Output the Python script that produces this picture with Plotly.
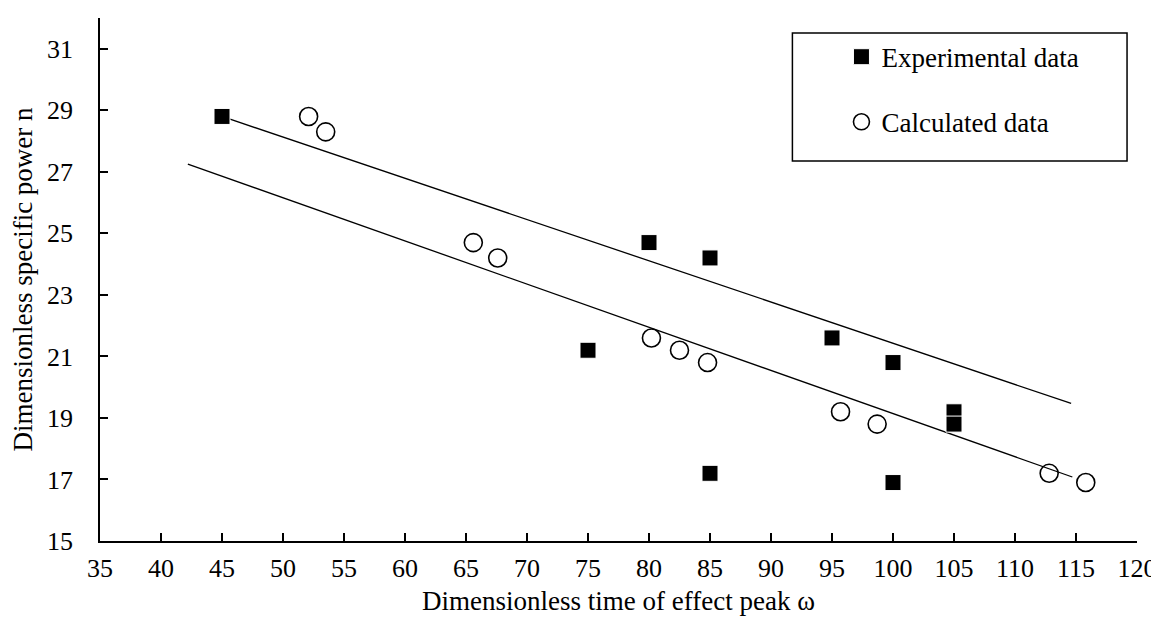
import plotly.graph_objects as go

# Experimental data (squares)
exp_x = [45, 75, 80, 85, 85, 95, 100, 100, 105, 105]
exp_y = [28.8, 21.2, 24.7, 24.2, 17.2, 21.6, 20.8, 16.9, 19.2, 18.8]

# Calculated data (open circles)
calc_x = [52.1, 53.5, 65.6, 67.6, 80.2, 82.5, 84.8, 95.7, 98.7, 112.8, 115.8]
calc_y = [28.8, 28.3, 24.7, 24.2, 21.6, 21.2, 20.8, 19.2, 18.8, 17.2, 16.9]

# Fitted trend lines (end points)
upper_x = [45, 114.6]
upper_y = [28.8, 19.47]
lower_x = [42.2, 114.7]
lower_y = [27.25, 17.08]

x_ticks = list(range(35, 121, 5))
y_ticks = list(range(15, 32, 2))

FONT = "Liberation Serif"

fig = go.Figure()
fig.add_trace(go.Scatter(x=upper_x, y=upper_y, mode="lines",
                         line=dict(color="black", width=1.3), showlegend=False, hoverinfo="skip"))
fig.add_trace(go.Scatter(x=lower_x, y=lower_y, mode="lines",
                         line=dict(color="black", width=1.3), showlegend=False, hoverinfo="skip"))
fig.add_trace(go.Scatter(x=exp_x, y=exp_y, mode="markers", name="Experimental data",
                         legendgroup="a",
                         marker=dict(symbol="square", size=16, color="black",
                                     line=dict(color="white", width=1))))
fig.add_trace(go.Scatter(x=calc_x, y=calc_y, mode="markers", name="Calculated data",
                         legendgroup="b",
                         marker=dict(symbol="circle-open", size=18, color="black",
                                     line=dict(color="black", width=1.6))))

axis_common = dict(showline=True, linecolor="black", linewidth=1.5, ticks="inside",
                   ticklen=8, tickwidth=1.5, tickcolor="black", showgrid=False,
                   zeroline=False, tickfont=dict(family=FONT, size=26, color="black"))

fig.update_layout(
    width=1159, height=619,
    margin=dict(l=92, r=26, t=10, b=86),
    plot_bgcolor="white", paper_bgcolor="white",
    font=dict(family=FONT, size=26, color="black"),
    xaxis=dict(range=[35, 120], tickvals=x_ticks, ticklabelstandoff=3,
               title=dict(text="Dimensionless time of effect peak ω",
                          font=dict(family=FONT, size=27, color="black"), standoff=9),
               **axis_common),
    yaxis=dict(range=[15, 32], tickvals=y_ticks, ticklabelstandoff=20,
               title=dict(text="Dimensionless specific power n",
                          font=dict(family=FONT, size=27, color="black"), standoff=8),
               **axis_common),
    legend=dict(x=0.715, y=0.972, xanchor="left", yanchor="top",
                bgcolor="rgba(0,0,0,0)", borderwidth=0,
                traceorder="grouped", tracegroupgap=27,
                font=dict(family=FONT, size=27, color="black"), itemwidth=30),
    shapes=[dict(type="rect", xref="paper", yref="paper",
                 x0=0.6677, x1=0.9904, y0=0.7268, y1=0.9713,
                 line=dict(color="black", width=1.5), fillcolor="rgba(0,0,0,0)", layer="above")],
)

fig.write_html("out.html")
